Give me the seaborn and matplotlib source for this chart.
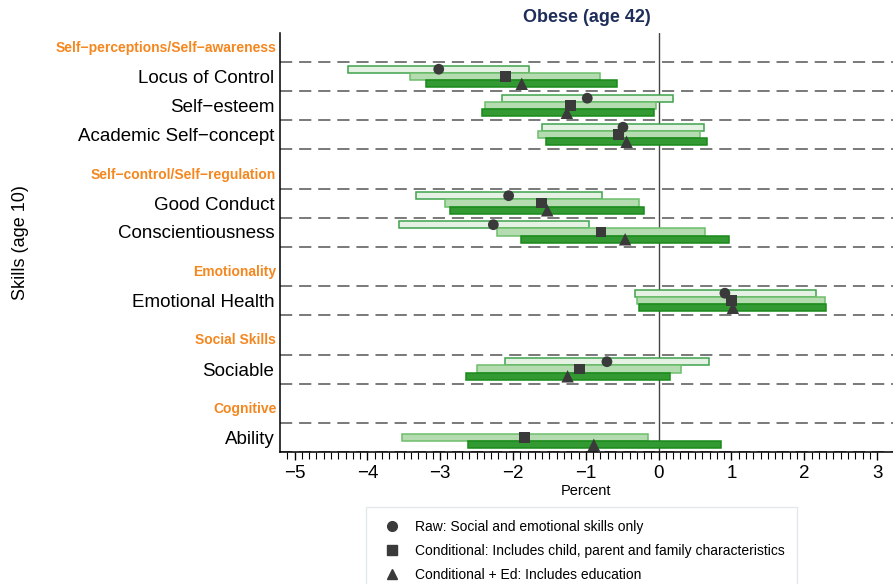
import numpy as np
import pandas as pd
import matplotlib.pyplot as plt
from matplotlib.lines import Line2D
import seaborn as sns

# Data (percent effect, Obese at 42)
groups = ['Self\u2212perceptions/Self\u2212awareness', 'Self\u2212control/Self\u2212regulation',
          'Emotionality', 'Social Skills', 'Cognitive']
skills = [['Locus of Control', 'Self\u2212esteem', 'Academic Self\u2212concept'],
          ['Good Conduct', 'Conscientiousness'],
          ['Emotional Health'],
          ['Sociable'],
          ['Ability']]

raw_est = [-3.02, -0.98, -0.49, -2.06, -2.27, 0.91, -0.71, np.nan]
raw_lo = [-4.26, -2.15, -1.60, -3.33, -3.56, -0.33, -2.11, np.nan]
raw_hi = [-1.78, 0.20, 0.62, -0.78, -0.96, 2.16, 0.69, np.nan]

cond_est = [-2.10, -1.21, -0.55, -1.61, -0.79, 1.00, -1.09, -1.84]
cond_lo = [-3.42, -2.39, -1.65, -2.94, -2.22, -0.30, -2.50, -3.53]
cond_hi = [-0.80, -0.03, 0.57, -0.27, 0.64, 2.29, 0.31, -0.15]

ed_est = [-1.88, -1.26, -0.44, -1.53, -0.46, 1.02, -1.25, -0.89]
ed_lo = [-3.19, -2.43, -1.55, -2.86, -1.89, -0.27, -2.65, -2.62]
ed_hi = [-0.57, -0.07, 0.67, -0.20, 0.96, 2.30, 0.15, 0.85]

models = ['Raw: Social and emotional skills only',
          'Conditional: Includes child, parent and family characteristics',
          'Conditional + Ed: Includes education']

sns.set_theme(style='white')
plt.rcParams['font.family'] = ['Liberation Sans', 'DejaVu Sans']
plt.rcParams['text.color'] = 'black'
plt.rcParams['axes.labelcolor'] = 'black'
plt.rcParams['xtick.color'] = 'black'
plt.rcParams['ytick.color'] = 'black'

fig = plt.figure(figsize=(8.93, 5.84), dpi=100)
ax = fig.add_axes([280 / 893, 1 - 452 / 584, 613 / 893, 419 / 584])

# layout of rows (pixel-like units, top = 0)
row_h = 29
gap_first = 29
gap_other = 39.5
y = 0
row_pos = []
head_pos = []
dash_pos = []
for gi, g in enumerate(groups):
    y += gap_first if gi == 0 else gap_other
    head_pos.append(y - 14)
    dash_pos.append(y)
    for s in skills[gi]:
        row_pos.append(y + row_h / 2)
        y += row_h
        dash_pos.append(y)
y_total = y
skill_names = [s for grp in skills for s in grp]

bar_h = 7.3
offs = [-bar_h, 0, bar_h]
fills = ['#e5f2e3', '#b4dcb0', '#339933']
edges = ['#3fa34d', '#6cbf6c', '#1a8a1a']
series = [(raw_est, raw_lo, raw_hi), (cond_est, cond_lo, cond_hi), (ed_est, ed_lo, ed_hi)]

for d in dash_pos:
    ax.axhline(d, color='#555555', lw=1.1, dashes=(8, 4.5), zorder=1)
ax.axvline(0, color='#444444', lw=1.0, zorder=1)

rows = []
for k, (est, lo, hi) in enumerate(series):
    lo = np.array(lo)
    hi = np.array(hi)
    ypos = np.array(row_pos) + offs[k]
    ok = ~np.isnan(lo)
    ax.barh(ypos[ok], (hi - lo)[ok], left=lo[ok], height=bar_h,
            color=fills[k], edgecolor=edges[k], linewidth=1.1, zorder=2)
    for i in range(len(est)):
        if not np.isnan(est[i]):
            rows.append({'model': models[k], 'est': est[i], 'y': ypos[i]})

df = pd.DataFrame(rows)
mk = {models[0]: 'o', models[1]: 's', models[2]: '^'}
sz = {models[0]: 60, models[1]: 60, models[2]: 80}
sns.scatterplot(data=df, x='est', y='y', style='model', markers=mk, size='model', sizes=sz,
                color='#3a3a3a', edgecolor='none', legend=False, zorder=3, ax=ax)

ax.set_ylim(y_total, 0)
ax.set_xlim(-5.2, (893 - 659) / 72.7)
ax.set_yticks(row_pos)
ax.set_yticklabels(skill_names, fontsize=13.5)
ax.tick_params(axis='y', length=0, pad=4)
for h, g in zip(head_pos, groups):
    ax.text(-0.006, h, g, transform=ax.get_yaxis_transform(), ha='right', va='center',
            color='#f5871f', fontsize=10, fontweight='bold')

ax.set_xticks(range(-5, 4))
ax.set_xticklabels(['\u2212' + str(-v) if v < 0 else str(v) for v in range(-5, 4)], fontsize=13.5)
ax.set_xticks(np.arange(-5.1, 3.01, 0.1), minor=True)
ax.tick_params(axis='x', which='major', length=6, width=1, direction='out', pad=3, bottom=True)
ax.tick_params(axis='x', which='minor', length=5, width=0.8, direction='out', bottom=True)

for side in ['top', 'right']:
    ax.spines[side].set_visible(False)
for side in ['left', 'bottom']:
    ax.spines[side].set_color('black')
    ax.spines[side].set_linewidth(1.1)

ax.set_xlabel('Percent', fontsize=10.5, labelpad=2)
ax.set_ylabel('Skills (age 10)', fontsize=13, labelpad=0)
ax.yaxis.set_label_coords(-0.41, 0.5)
ax.set_title('Obese (age 42)', fontsize=13, fontweight='bold', color='#1e2d5a', pad=8)

handles = [Line2D([], [], marker=m, ls='none', color='#3a3a3a', markersize=7) for m in ['o', 's', '^']]
leg = fig.legend(handles, models, loc='upper left', bbox_to_anchor=(366 / 893, 1 - 507 / 584),
                 frameon=True, fontsize=10, handletextpad=0.6, labelspacing=0.75,
                 borderpad=0.9, fancybox=False, borderaxespad=0)
leg.get_frame().set_edgecolor('#dde3e8')
leg.get_frame().set_linewidth(1.0)

fig.savefig('out.png', dpi=100)
